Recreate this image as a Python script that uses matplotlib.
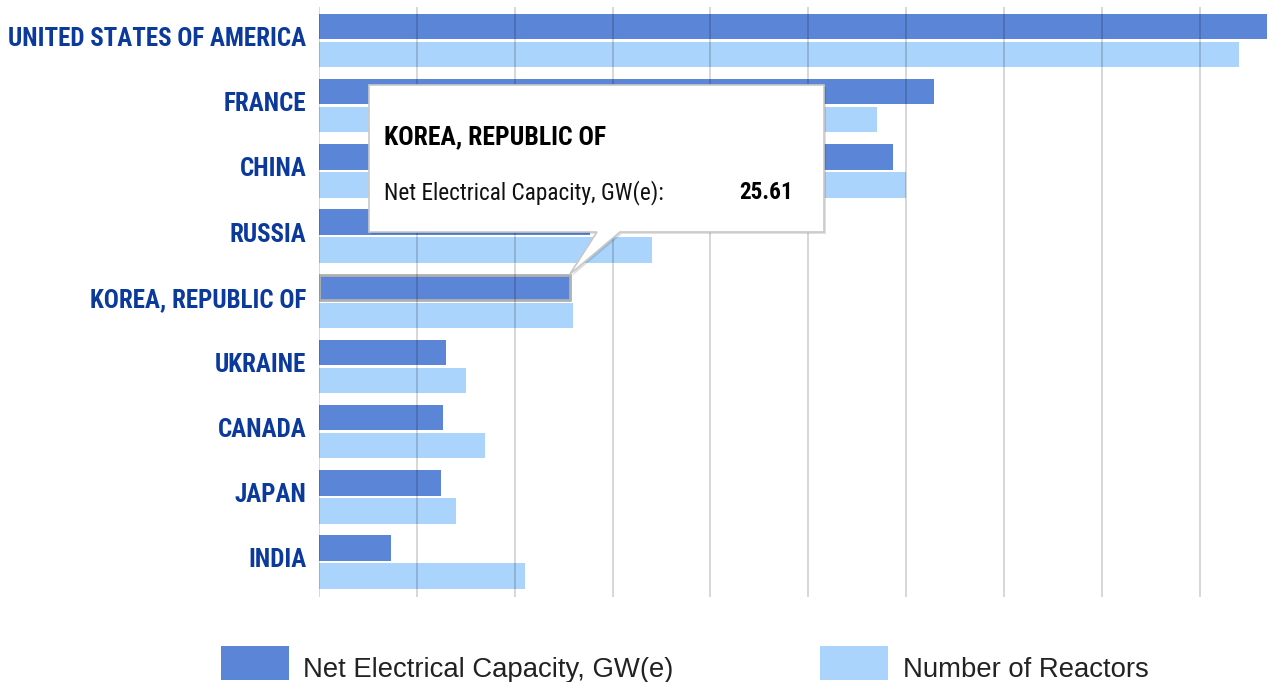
import matplotlib
matplotlib.use("Agg")
import matplotlib.pyplot as plt
from matplotlib import font_manager
from matplotlib.patches import Polygon, Rectangle
import matplotlib.transforms as mtransforms
import numpy as np

countries = ["UNITED STATES OF AMERICA", "FRANCE", "CHINA", "RUSSIA",
             "KOREA, REPUBLIC OF", "UKRAINE", "CANADA", "JAPAN", "INDIA"]
capacity = [97.0, 62.8, 58.7, 27.7, 25.61, 13.0, 12.7, 12.5, 7.4]
reactors = [94, 57, 60, 34, 26, 15, 17, 14, 21]
series_names = ["Net Electrical Capacity, GW(e)", "Number of Reactors"]
hover_index = 4

DARK = "#5b85d6"
LIGHT = "#abd4fc"
LABEL_BLUE = "#0b3a9c"

names = {f.name for f in font_manager.fontManager.ttflist}
narrow_family = "Roboto"
for cand in ["Liberation Sans Narrow", "Roboto Condensed", "Open Sans Condensed"]:
    if cand in names:
        narrow_family = cand
        break

W, H = 1283, 682
fig = plt.figure(figsize=(W / 100, H / 100), dpi=100)
renderer = fig.canvas.get_renderer()

def px(x, y):
    return (x / W, 1 - y / H)

def fit_size(text, width_px, max_size, **kw):
    # font size that makes `text` about width_px wide, capped at max_size
    t = fig.text(0, 0, text, fontsize=20, **kw)
    w = t.get_window_extent(renderer).width
    t.remove()
    return min(max_size, 20 * width_px / w)

ax = fig.add_axes([319 / W, 1 - 597 / H, (1267 - 319) / W, (597 - 7) / H])

y = np.arange(len(countries))
bh = 0.39
ax.barh(y - 0.215, capacity, height=bh, color=DARK, zorder=2)
ax.barh(y + 0.215, reactors, height=bh, color=LIGHT, zorder=2)
# hovered bar gets an outline
ax.barh(y[hover_index] - 0.215, capacity[hover_index], height=bh, color=DARK,
        edgecolor="#b0b0b0", linewidth=2.0, zorder=2.1)

ax.set_xlim(0, 96.87)
ax.set_ylim(len(countries) - 1 + 0.537, -0.514)
ax.set_xticks(range(0, 91, 10))
ax.set_axisbelow(False)
ax.grid(axis="x", color="black", alpha=0.17, linewidth=1.3)
ax.tick_params(length=0, labelbottom=False, pad=9)
ax.set_yticks(y)
lab_size = fit_size(countries[0], 298, 21, family=narrow_family, fontweight="bold")
ax.set_yticklabels(countries, color=LABEL_BLUE, fontsize=lab_size, fontweight="bold",
                   family=narrow_family)
shift = mtransforms.ScaledTranslation(0, 4 / 100, fig.dpi_scale_trans)
for lbl in ax.get_yticklabels():
    lbl.set_transform(lbl.get_transform() + shift)
for s in ax.spines.values():
    s.set_visible(False)

# tooltip
tip_disp = ax.transData.transform((capacity[hover_index], y[hover_index] - 0.215 - bh / 2))
tip = fig.transFigure.inverted().transform(tip_disp)
pts = [px(369, 85), px(824, 85), px(824, 232), px(620, 232), tuple(tip), px(597, 232), px(369, 232)]
shadow = [(a + 2 / W, b - 2 / H) for a, b in pts]
fig.patches.append(Polygon(shadow, closed=True, transform=fig.transFigure,
                           facecolor="#000000", alpha=0.12, edgecolor="none", zorder=5))
fig.patches.append(Polygon(pts, closed=True, transform=fig.transFigure,
                           facecolor="white", edgecolor="#c8c8c8", linewidth=1.2, zorder=6))
tt_size = fit_size(series_names[0] + ":", 280, 20, family=narrow_family)
title_size = fit_size(countries[hover_index], 222, 21, family=narrow_family, fontweight="bold")
fig.text(*px(384, 144), countries[hover_index], fontsize=title_size, fontweight="bold",
         color="black", va="baseline", zorder=7, family=narrow_family)
fig.text(*px(384, 199), series_names[0] + ":", fontsize=tt_size, color="#111111",
         va="baseline", zorder=7, family=narrow_family)
fig.text(*px(793, 199), f"{capacity[hover_index]:.2f}", fontsize=tt_size, fontweight="bold",
         color="black", va="baseline", ha="right", zorder=7, family=narrow_family)

# legend
leg_size = fit_size(series_names[0], 370, 20, family="Liberation Sans")
for (x0, col, name, tx) in [(221, DARK, series_names[0], 303), (820, LIGHT, series_names[1], 903)]:
    fig.patches.append(Rectangle(px(x0, 680), 68 / W, 34 / H, transform=fig.transFigure,
                                 facecolor=col, edgecolor="none"))
    fig.text(*px(tx, 677), name, fontsize=leg_size, color="#222222", va="baseline",
             family="Liberation Sans")

fig.savefig("out.png", dpi=100)
